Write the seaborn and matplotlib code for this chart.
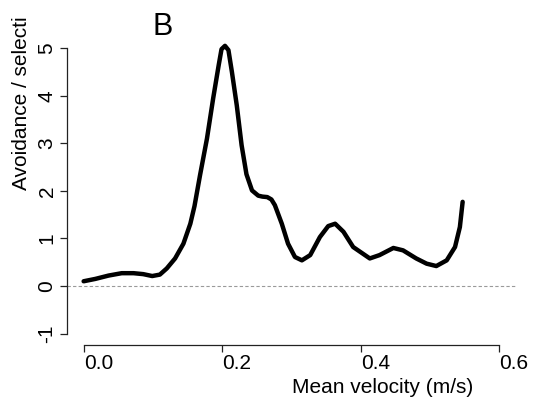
import matplotlib
matplotlib.use("Agg")
import matplotlib.pyplot as plt
import seaborn as sns
import pandas as pd

# Data
velocity = [0.0, 0.017, 0.036, 0.055, 0.072, 0.086, 0.099, 0.11, 0.12, 0.132,
            0.144, 0.154, 0.16, 0.168, 0.178, 0.187, 0.195, 0.199, 0.204, 0.209,
            0.214, 0.221, 0.228, 0.235, 0.243, 0.252, 0.258, 0.265, 0.271, 0.276,
            0.286, 0.295, 0.305, 0.315, 0.327, 0.341, 0.353, 0.363, 0.375, 0.389,
            0.399, 0.413, 0.427, 0.447, 0.461, 0.48, 0.495, 0.509, 0.524, 0.536,
            0.543, 0.547]
selectivity = [0.1, 0.15, 0.22, 0.27, 0.27, 0.25, 0.21, 0.24, 0.37, 0.58,
               0.89, 1.31, 1.68, 2.33, 3.1, 3.95, 4.65, 4.98, 5.05, 4.96,
               4.5, 3.8, 2.96, 2.35, 2.01, 1.9, 1.88, 1.87, 1.82, 1.7,
               1.31, 0.89, 0.61, 0.54, 0.65, 1.03, 1.26, 1.31, 1.14, 0.82,
               0.72, 0.58, 0.65, 0.8, 0.75, 0.58, 0.47, 0.42, 0.54, 0.82,
               1.24, 1.77]
x_ticks = [0.0, 0.2, 0.4, 0.6]
x_tick_labels = ["0.0", "0.2", "0.4", "0.6"]
y_ticks = [-1, 0, 1, 2, 3, 4, 5]
y_tick_labels = ["-1", "0", "1", "2", "3", "4", "5"]

sns.set_style("ticks")
plt.rcParams["font.family"] = ["Liberation Sans", "DejaVu Sans"]
plt.rcParams["axes.unicode_minus"] = False
plt.rcParams["text.color"] = "black"
plt.rcParams["xtick.color"] = "black"
plt.rcParams["ytick.color"] = "black"
plt.rcParams["xtick.labelcolor"] = "black"
plt.rcParams["ytick.labelcolor"] = "black"

W, H = 533, 405
fig = plt.figure(figsize=(W / 100, H / 100), dpi=100)
left, right, top, bottom = 67, 516, 36.8, 345
ax = fig.add_axes([left / W, 1 - bottom / H, (right - left) / W, (bottom - top) / H])

df = pd.DataFrame({"v": velocity, "s": selectivity})
ax.axhline(0, color="#9a9a9a", lw=0.8, dashes=(3, 2), zorder=1)
sns.lineplot(data=df, x="v", y="s", ax=ax, color="black", lw=3.2, estimator=None,
             sort=False, zorder=3)
ax.lines[-1].set_solid_joinstyle("round")
ax.lines[-1].set_solid_capstyle("round")

ax.set_xlim(-0.024, 0.624)
ax.set_ylim(-1.24, 5.24)
ax.set_xlabel("")
ax.set_ylabel("")

for s in ["top", "right"]:
    ax.spines[s].set_visible(False)
ax.spines["left"].set_bounds(-1, 5)
ax.spines["bottom"].set_bounds(0, 0.6)
for s in ["left", "bottom"]:
    ax.spines[s].set_linewidth(0.9)
    ax.spines[s].set_color("#222222")

ax.set_xticks(x_ticks)
ax.set_xticklabels(x_tick_labels, ha="left")
ax.set_yticks(y_ticks)
ax.set_yticklabels(y_tick_labels, rotation=90, va="center")
ax.tick_params(axis="both", length=5, width=0.9, color="#222222", labelsize=15,
               labelcolor="black")
ax.tick_params(axis="x", pad=1.5)
ax.tick_params(axis="y", pad=2.5)

fig.text(163 / W, 1 - 35 / H, "B", fontsize=22, ha="center", va="baseline", color="black")
fig.text(292 / W, 1 - 393 / H, "Mean velocity (m/s)", fontsize=15, ha="left",
         va="baseline", color="black")
fig.text(27 / W, 1 - 190 / H, "Avoidance / selecti", fontsize=15, rotation=90,
         rotation_mode="anchor", ha="left", va="baseline", color="black")

fig.savefig("out.png", dpi=100)
